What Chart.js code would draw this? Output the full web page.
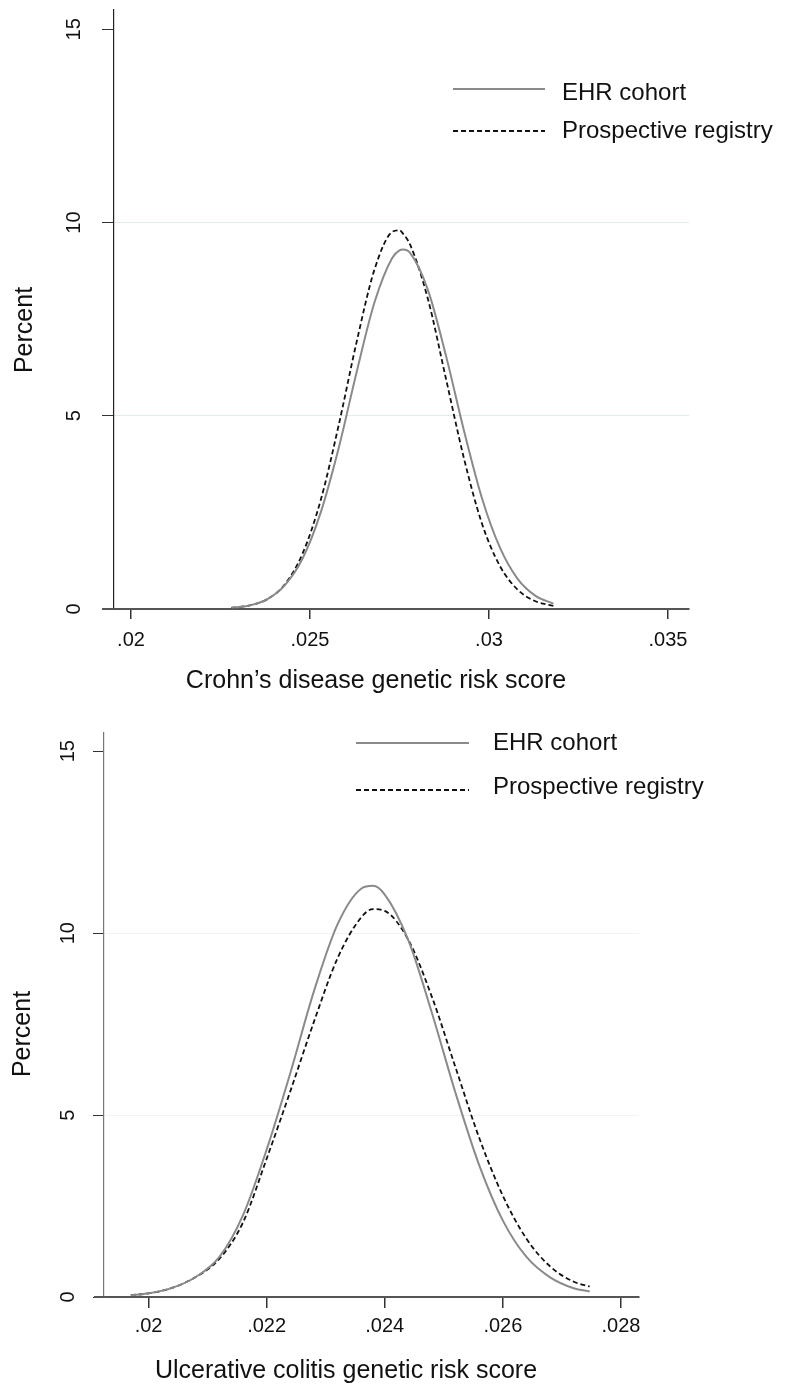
<!DOCTYPE html>
<html>
<head>
<meta charset="utf-8">
<script src="https://cdn.jsdelivr.net/npm/chart.js@4.4.1/dist/chart.umd.min.js"></script>
<style>
body { margin: 0; background: #fff; }
canvas { position: absolute; left: 0; }
#cd { top: 0; }
#uc { top: 700px; }
</style>
</head>
<body>
<canvas id="cd" width="788" height="700"></canvas>
<canvas id="uc" width="788" height="687"></canvas>
<script>
const series_names = ['EHR cohort', 'Prospective registry'];
const y_ticks = [0, 5, 10, 15];

// Crohn's disease panel
const cd_x = [0.0228, 0.0233, 0.0238, 0.0243, 0.0248, 0.0253, 0.0258, 0.0263, 0.0268, 0.0273, 0.0275,
              0.0276, 0.0278, 0.0283, 0.0288, 0.0293, 0.0298, 0.0303, 0.0308, 0.0313, 0.0318];
const cd_ehr = [0.03, 0.09, 0.25, 0.62, 1.32, 2.50, 4.16, 6.12, 7.93, 9.09, 9.28,
                9.30, 9.21, 8.24, 6.55, 4.62, 2.88, 1.60, 0.78, 0.34, 0.14];
const cd_reg = [0.03, 0.09, 0.25, 0.64, 1.45, 2.82, 4.75, 6.90, 8.78, 9.76, 9.80,
                9.71, 9.42, 8.00, 5.95, 3.90, 2.22, 1.12, 0.50, 0.20, 0.08];
const cd_x_ticks = [0.02, 0.025, 0.03, 0.035];

// Ulcerative colitis panel
const uc_x = [0.0197, 0.0200, 0.0204, 0.0208, 0.0212, 0.0216, 0.0220, 0.0224, 0.0228, 0.0232, 0.0236,
              0.0238, 0.0240, 0.0244, 0.0248, 0.0252, 0.0256, 0.0260, 0.0264, 0.0268, 0.0272, 0.02747];
const uc_ehr = [0.05, 0.10, 0.25, 0.55, 1.10, 2.25, 4.05, 6.15, 8.40, 10.24, 11.22,
                11.30, 11.06, 9.80, 7.80, 5.60, 3.62, 2.10, 1.10, 0.54, 0.24, 0.15];
const uc_reg = [0.05, 0.10, 0.25, 0.55, 1.05, 2.05, 3.80, 5.65, 7.56, 9.31, 10.43,
                10.66, 10.61, 9.81, 8.24, 6.30, 4.37, 2.78, 1.60, 0.84, 0.42, 0.29];
const uc_x_ticks = [0.02, 0.022, 0.024, 0.026, 0.028];

const FONT = '"Liberation Sans", Arial, sans-serif';

// legend, axis titles and the little stub of x axis left of the y axis
const decor = {
    id: 'decor',
    afterDraw(chart, args, o) {
        const ctx = chart.ctx;
        const a = chart.chartArea;
        ctx.save();
        ctx.strokeStyle = o.xAxisColor;
        ctx.lineWidth = 2;
        ctx.beginPath();
        ctx.moveTo(o.stubFrom, a.bottom);
        ctx.lineTo(a.left, a.bottom);
        ctx.stroke();

        ctx.font = '24px ' + FONT;
        ctx.textBaseline = 'middle';
        ctx.textAlign = 'left';
        chart.data.datasets.forEach((ds, i) => {
            ctx.strokeStyle = ds.borderColor;
            ctx.lineWidth = ds.borderWidth;
            ctx.setLineDash(ds.borderDash || []);
            ctx.beginPath();
            ctx.moveTo(o.lineX[0], o.lineY[i]);
            ctx.lineTo(o.lineX[1], o.lineY[i]);
            ctx.stroke();
            ctx.fillStyle = '#111';
            ctx.fillText(ds.label, o.textX, o.textY[i]);
        });
        ctx.setLineDash([]);

        ctx.font = '25px ' + FONT;
        ctx.fillStyle = '#111';
        ctx.textAlign = 'center';
        ctx.fillText(o.xTitle, o.xTitlePos[0], o.xTitlePos[1]);
        ctx.translate(o.yTitlePos[0], o.yTitlePos[1]);
        ctx.rotate(-Math.PI / 2);
        ctx.fillText('Percent', 0, 0);
        ctx.restore();
    }
};

function fmt(v) {
    return String(+v.toFixed(4)).replace(/^0\./, '.');
}

function make_chart(el, p) {
    return new Chart(el, {
        type: 'line',
        data: {
            datasets: [{
                label: series_names[0],
                data: p.x.map((x, i) => ({x: x, y: p.ehr[i]})),
                borderColor: '#8a8a8a',
                borderWidth: 2,
                pointRadius: 0,
                cubicInterpolationMode: 'monotone'
            }, {
                label: series_names[1],
                data: p.x.map((x, i) => ({x: x, y: p.reg[i]})),
                borderColor: '#111',
                borderWidth: 1.8,
                borderDash: [5, 3],
                pointRadius: 0,
                cubicInterpolationMode: 'monotone'
            }]
        },
        options: {
            responsive: false,
            animation: false,
            devicePixelRatio: 1,
            layout: { padding: { top: p.top, right: p.right, left: 0, bottom: 0 } },
            plugins: {
                legend: { display: false },
                tooltip: { enabled: false },
                decor: p.decor
            },
            scales: {
                x: {
                    type: 'linear',
                    min: p.xmin,
                    max: p.xmax,
                    afterBuildTicks: s => { s.ticks = p.xticks.map(v => ({value: v})); },
                    afterFit: s => { s.height = p.xh; s.paddingLeft = 0; s.paddingRight = 0; },
                    border: { color: p.xAxisColor, width: 2 },
                    grid: { drawOnChartArea: false, color: 'rgba(0,0,0,0)', tickColor: '#333', tickLength: p.xtick, lineWidth: 1.5 },
                    ticks: { maxRotation: 0, padding: p.xpad, color: '#111', font: { family: FONT, size: 20 }, callback: v => fmt(v) }
                },
                y: {
                    type: 'linear',
                    min: 0,
                    max: 15.5,
                    afterBuildTicks: s => { s.ticks = y_ticks.map(v => ({value: v})); },
                    afterFit: s => { s.width = p.yw; s.paddingTop = 0; s.paddingBottom = 0; },
                    border: { color: p.yAxisColor, width: 1.2 },
                    grid: {
                        color: c => (c.tick && (c.tick.value === 5 || c.tick.value === 10)) ? p.gridColor : 'rgba(0,0,0,0)',
                        tickColor: '#333',
                        tickLength: p.ytick,
                        lineWidth: 1
                    },
                    ticks: { minRotation: 90, maxRotation: 90, crossAlign: 'center', padding: p.ypad, color: '#111', font: { family: FONT, size: 20 } }
                }
            }
        },
        plugins: [decor]
    });
}

make_chart(document.getElementById('cd'), {
    x: cd_x, ehr: cd_ehr, reg: cd_reg, xticks: cd_x_ticks,
    xmin: 0.019525, xmax: 0.035587,
    top: 10, right: 99, xh: 91, yw: 114,
    xtick: 10, xpad: 9, ytick: 12, ypad: 16,
    xAxisColor: '#555', yAxisColor: '#222', gridColor: '#e2ecee',
    decor: {
        stubFrom: 102, xAxisColor: '#555',
        lineX: [453, 545], lineY: [89, 131], textX: 562, textY: [93, 131],
        xTitle: 'Crohn\u2019s disease genetic risk score', xTitlePos: [376, 681],
        yTitlePos: [25, 330]
    }
});

make_chart(document.getElementById('uc'), {
    x: uc_x, ehr: uc_ehr, reg: uc_reg, xticks: uc_x_ticks,
    xmin: 0.019246, xmax: 0.028305,
    top: 33, right: 149, xh: 90, yw: 104,
    xtick: 11, xpad: 6, ytick: 11, ypad: 13,
    xAxisColor: '#555', yAxisColor: '#777', gridColor: '#f2f2f2',
    decor: {
        stubFrom: 94, xAxisColor: '#555',
        lineX: [356, 469], lineY: [43, 90], textX: 493, textY: [43, 87],
        xTitle: 'Ulcerative colitis genetic risk score', xTitlePos: [346, 671],
        yTitlePos: [23, 334]
    }
});
</script>
</body>
</html>
